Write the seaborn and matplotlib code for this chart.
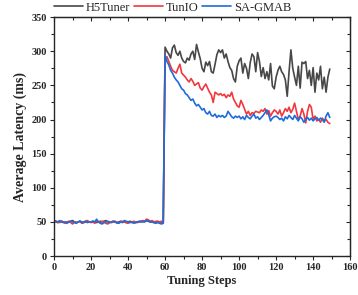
import numpy as np
import pandas as pd
import matplotlib
matplotlib.use("Agg")
import matplotlib.pyplot as plt
import seaborn as sns
from matplotlib.ticker import MultipleLocator

steps = list(range(150))

h5tuner = [51, 50, 49, 50, 51, 50, 49, 50, 50, 51, 52, 50, 49, 50, 51, 50, 49, 50, 51, 50,
           50, 51, 50, 49, 50, 51, 50, 51, 52, 50, 49, 50, 51, 50, 49, 50, 51, 50, 50, 49,
           50, 51, 50, 50, 49, 50, 51, 50, 51, 50, 52, 51, 50, 50, 49, 50, 51, 50, 50, 49,
           306, 300, 296, 290, 305, 309, 298, 294, 300, 290,
           285, 283, 290, 287, 296, 300, 288, 310, 299, 289,
           275, 270, 284, 279, 285, 270, 268, 281, 295, 302,
           298, 302, 290, 296, 285, 276, 272, 260, 255, 278,
           286, 290, 268, 282, 275, 260, 283, 296, 292, 270,
           298, 285, 263, 276, 260, 270, 258, 282, 249, 245,
           262, 272, 278, 270, 266, 258, 234, 270, 302, 275,
           262, 250, 278, 246, 284, 282, 285, 260, 272, 250,
           276, 240, 268, 258, 278, 245, 262, 240, 262, 274]

tunio = [52, 51, 50, 49, 51, 50, 48, 50, 51, 49, 47, 50, 49, 50, 51, 48, 49, 51, 52, 50,
         49, 50, 48, 51, 50, 49, 51, 50, 48, 47, 49, 50, 51, 50, 48, 49, 50, 51, 50, 49,
         48, 50, 49, 51, 50, 49, 50, 51, 52, 51, 54, 53, 51, 52, 50, 51, 50, 50, 51, 50,
         288, 292, 285, 278, 272, 270, 268, 275, 281, 268,
         265, 262, 258, 255, 260, 256, 250, 252, 254, 246,
         243, 248, 252, 246, 240, 236, 225, 240, 238, 236,
         238, 235, 237, 232, 236, 234, 240, 230, 225, 220,
         218, 228, 222, 215, 208, 212, 206, 210, 209, 212,
         211, 210, 214, 212, 216, 208, 213, 205, 210, 214,
         212, 208, 214, 205, 210, 216, 212, 218, 210, 215,
         224, 212, 200, 205, 216, 208, 195, 212, 222, 218,
         200, 205, 198, 200, 196, 202, 198, 200, 196, 194]

sagmab = [50, 51, 50, 52, 50, 49, 50, 48, 50, 51, 50, 49, 48, 50, 51, 49, 50, 51, 49, 50,
          50, 51, 50, 54, 50, 48, 47, 49, 50, 51, 50, 49, 50, 51, 49, 48, 50, 49, 52, 51,
          50, 49, 50, 48, 49, 50, 50, 51, 50, 51, 52, 51, 50, 50, 49, 48, 49, 48, 47, 48,
          294, 285, 280, 272, 268, 262, 258, 255, 250, 245,
          243, 238, 236, 232, 228, 230, 224, 220, 222, 218,
          214, 216, 210, 208, 212, 206, 205, 208, 203, 206,
          204, 206, 203, 205, 212, 208, 204, 202, 205, 203,
          205, 201, 204, 200, 206, 203, 201, 205, 208, 202,
          204, 200, 203, 206, 210, 214, 207, 198, 202, 204,
          205, 203, 200, 202, 198, 204, 201, 206, 203, 200,
          206, 202, 198, 204, 201, 196, 200, 203, 199, 202,
          198, 201, 203, 199, 202, 200, 196, 205, 210, 203]

methods = ["H5Tuner", "TunIO", "SA-GMAB"]
colors = {"H5Tuner": "#474747", "TunIO": "#f2373d", "SA-GMAB": "#1e6cdb"}

df = pd.DataFrame({
    "step": steps * 3,
    "latency": h5tuner + tunio + sagmab,
    "method": [m for m in methods for _ in steps],
})

sns.set_style("ticks")
plt.rcParams["font.family"] = ["Liberation Serif", "DejaVu Serif"]

fig = plt.figure(figsize=(3.58, 2.95), dpi=100)
ax = fig.add_axes([0.151, 0.132, 0.827, 0.81])

sns.lineplot(data=df, x="step", y="latency", hue="method", hue_order=methods,
             palette=colors, linewidth=1.2, ax=ax)

ax.set_xlim(0, 160)
ax.set_ylim(0, 350)
ax.xaxis.set_major_locator(MultipleLocator(20))
ax.xaxis.set_minor_locator(MultipleLocator(10))
ax.yaxis.set_major_locator(MultipleLocator(50))
ax.yaxis.set_minor_locator(MultipleLocator(25))
ax.tick_params(which="both", direction="out", labelsize=7.5, width=0.8, pad=2)
ax.tick_params(which="major", length=3)
ax.tick_params(which="minor", length=2)
for lab in ax.get_xticklabels() + ax.get_yticklabels():
    lab.set_fontweight("bold")
for s in ax.spines.values():
    s.set_linewidth(1.0)

# mirrored ticks on top and right point inward
top = ax.secondary_xaxis("top")
top.xaxis.set_major_locator(MultipleLocator(20))
top.xaxis.set_minor_locator(MultipleLocator(10))
top.tick_params(which="both", direction="in", labeltop=False, width=0.8)
top.tick_params(which="major", length=3)
top.tick_params(which="minor", length=2)
right = ax.secondary_yaxis("right")
right.yaxis.set_major_locator(MultipleLocator(50))
right.yaxis.set_minor_locator(MultipleLocator(25))
right.tick_params(which="both", direction="in", labelright=False, width=0.8)
right.tick_params(which="major", length=3)
right.tick_params(which="minor", length=2)

ax.set_xlabel("Tuning Steps", fontsize=9, fontweight="bold", labelpad=2)
ax.set_ylabel("Average Latency (ms)", fontsize=10, fontweight="bold", labelpad=3)

ax.legend(loc="lower left", bbox_to_anchor=(0.0, 1.015), ncol=3, frameon=False,
          fontsize=9, handlelength=2.3, columnspacing=0.3, handletextpad=0.25,
          borderaxespad=0, borderpad=0)

fig.savefig("out.png", dpi=100)
